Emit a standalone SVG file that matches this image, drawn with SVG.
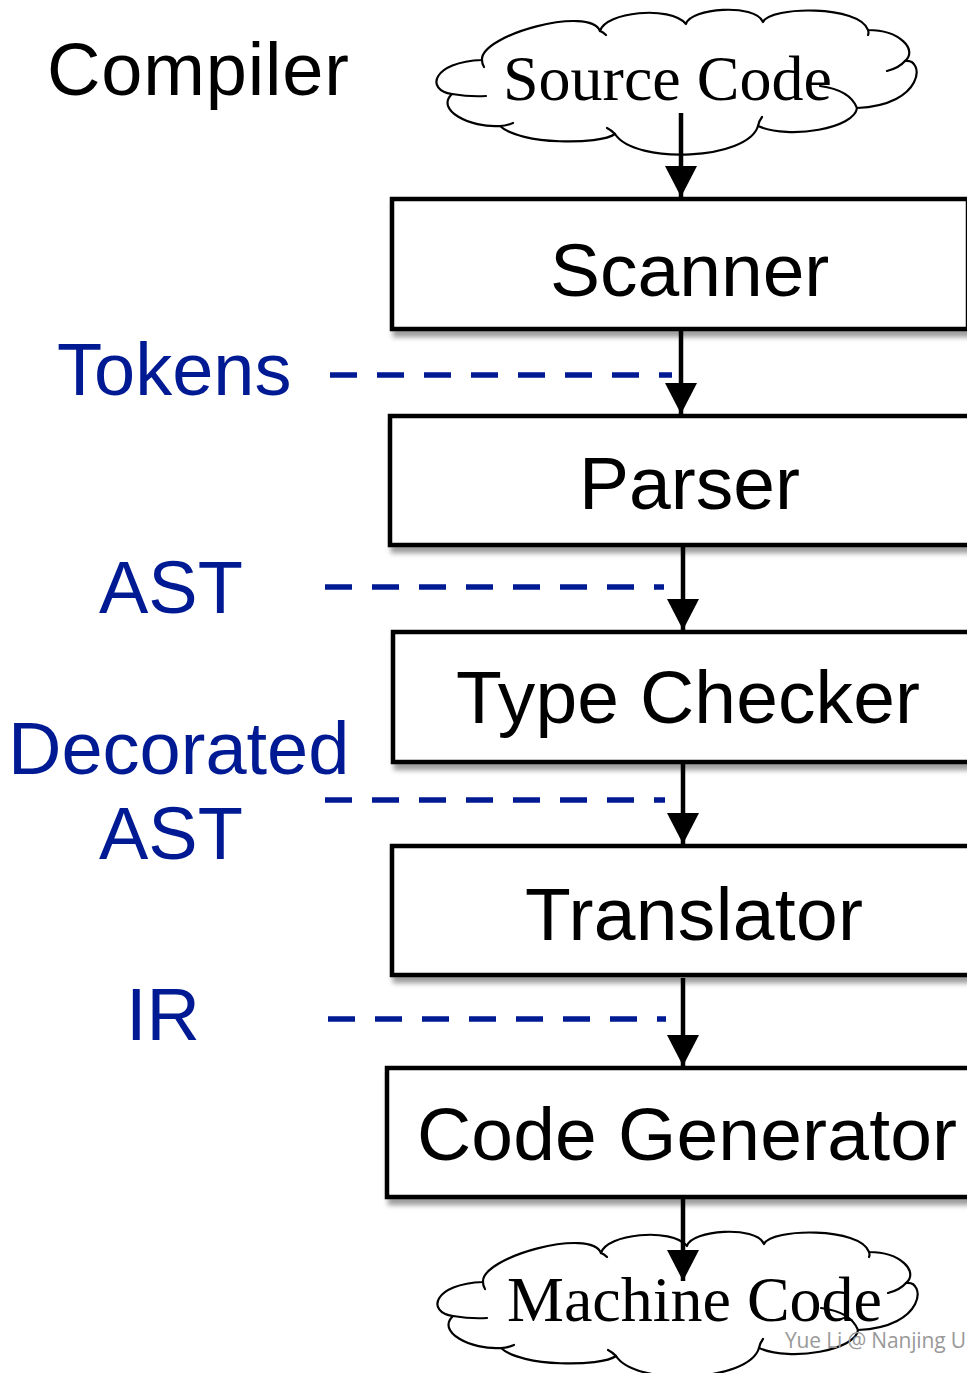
<svg xmlns="http://www.w3.org/2000/svg" xmlns:xlink="http://www.w3.org/1999/xlink" width="967" height="1373" viewBox="0 0 967 1373">
  <style>
    .box { fill: #ffffff; stroke: #000000; stroke-width: 4.5; filter: url(#shadow); }
    .boxlabel { font-family: "Liberation Sans", Arial, sans-serif; font-size: 75px; fill: #000000; }
    .side { font-family: "Liberation Sans", Arial, sans-serif; font-size: 74px; fill: #001A94; }
    .cloudtext { font-family: "Liberation Serif", "Times New Roman", serif; font-size: 64px; fill: #000000; }
    .cloud { fill: #ffffff; stroke: #000000; stroke-width: 2.2; stroke-linejoin: round; }
    .tick { fill: none; stroke: #000000; stroke-width: 2.2; stroke-linecap: round; }
    .flow { stroke: #000000; stroke-width: 4.5; fill: none; marker-end: url(#head); }
    .data { stroke: #001A94; stroke-width: 5.5; fill: none; stroke-dasharray: 27 20; }
  </style>
  <defs>
    <filter id="shadow" x="-10%" y="-20%" width="130%" height="160%">
      <feDropShadow dx="3" dy="6" stdDeviation="2.5" flood-color="#000000" flood-opacity="0.38"/>
    </filter>
    <marker id="head" markerUnits="userSpaceOnUse" markerWidth="32" markerHeight="32" refX="31" refY="16" orient="auto">
      <path d="M0,0 L31,16 L0,32 Z" fill="#000000"/>
    </marker>
    <!-- cloud outline: eleven lobes plus the short inner ticks where lobes meet -->
    <g id="cloudShape">
      <path class="cloud" d="M 482,60
        C 480,35 590,5 600,31
        C 605,12 670,5 686,24
        C 690,8 755,3 763,22
        C 770,6 860,5 868,30
        C 900,30 918,50 905,61
        C 925,58 925,105 857,108
        C 855,128 790,140 758,126
        C 748,160 635,165 615,134
        C 600,145 520,145 500,126
        C 470,128 435,110 452,94
        C 425,90 432,62 482,60 Z"/>
      <path class="tick" d="M 452,94 Q 470,97 486,96
        M 482,60 q 0,4 2,7
        M 600,31 q 3,1 6,4
        M 868,30 q 1,3 0,5
        M 905,61 Q 899,68 887,71
        M 857,108 Q 850,90 820,86
        M 758,126 q 1,-5 4,-9
        M 615,134 q -4,-4 -8,-6
        M 500,126 q 6,0 13,-3"/>
    </g>
  </defs>

  <!-- title -->
  <text x="47" y="95" font-family="Liberation Sans, Arial, sans-serif" font-size="74" fill="#000000" textLength="302">Compiler</text>

  <!-- input cloud -->
  <g id="source-code">
    <use xlink:href="#cloudShape" href="#cloudShape"/>
    <text class="cloudtext" x="503" y="100">Source Code</text>
  </g>

  <!-- output cloud -->
  <g id="machine-code">
    <use xlink:href="#cloudShape" href="#cloudShape" transform="translate(1,1222)"/>
    <text class="cloudtext" x="507" y="1321">Machine Code</text>
  </g>

  <!-- compiler phases -->
  <g id="scanner">
    <rect class="box" x="392" y="199" width="576" height="130"/>
    <text class="boxlabel" x="550" y="296">Scanner</text>
  </g>
  <g id="parser">
    <rect class="box" x="390" y="416" width="600" height="129"/>
    <text class="boxlabel" x="579" y="509">Parser</text>
  </g>
  <g id="type-checker">
    <rect class="box" x="393" y="632" width="600" height="130"/>
    <text class="boxlabel" x="456" y="723" textLength="464">Type Checker</text>
  </g>
  <g id="translator">
    <rect class="box" x="392" y="846" width="600" height="129"/>
    <text class="boxlabel" x="525" y="940" textLength="338">Translator</text>
  </g>
  <g id="code-generator">
    <rect class="box" x="387" y="1068" width="600" height="129"/>
    <text class="boxlabel" x="417" y="1160" textLength="540">Code Generator</text>
  </g>

  <!-- intermediate representations -->
  <g id="tokens">
    <text class="side" x="57" y="395">Tokens</text>
  </g>
  <g id="ast">
    <text class="side" x="99" y="613">AST</text>
  </g>
  <g id="decorated-ast">
    <text class="side" x="8" y="774">Decorated</text>
    <text class="side" x="99" y="859">AST</text>
  </g>
  <g id="ir">
    <text class="side" x="126" y="1040">IR</text>
  </g>

  <!-- connectors -->
  <g id="connectors">
    <line class="data" x1="330" y1="375" x2="672" y2="375"/>
    <line class="data" x1="325" y1="587" x2="664" y2="587"/>
    <line class="data" x1="325" y1="800" x2="665" y2="800"/>
    <line class="data" x1="328" y1="1019" x2="666" y2="1019"/>

    <line class="flow" x1="681" y1="113" x2="681" y2="197"/>
    <line class="flow" x1="681" y1="331" x2="681" y2="414"/>
    <line class="flow" x1="683" y1="547" x2="683" y2="630"/>
    <line class="flow" x1="683" y1="762" x2="683" y2="844"/>
    <line class="flow" x1="683" y1="978" x2="683" y2="1066"/>
    <line class="flow" x1="683" y1="1199" x2="683" y2="1281"/>
  </g>

  <text x="785" y="1348" font-family="Open Sans, Noto Sans, sans-serif" font-size="21" fill="#999999" textLength="181">Yue Li @ Nanjing U</text>
</svg>
